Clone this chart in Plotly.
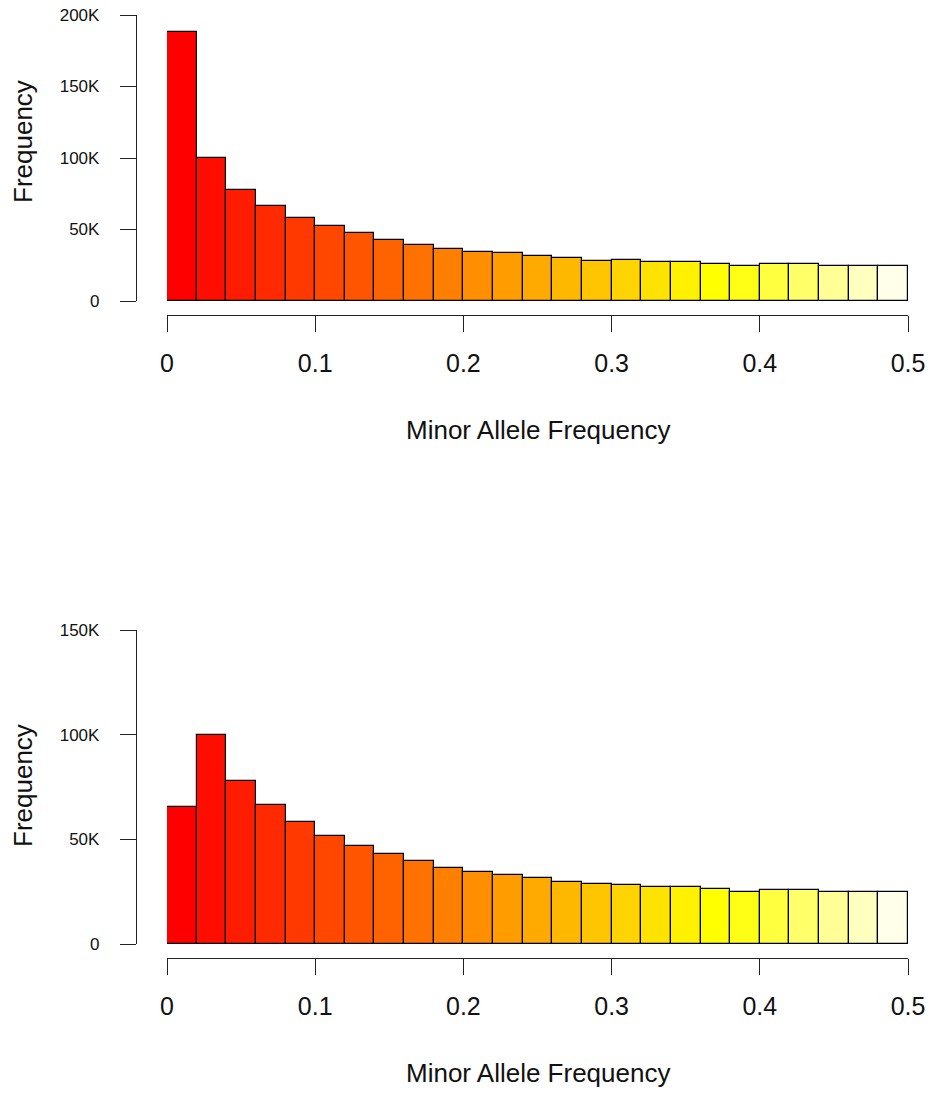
import plotly.graph_objects as go
import colorsys

# ---------------- data ----------------
bin_start = 0.0
bin_width = 0.02
n_bins = 25

# counts per bin (top panel)
counts_top = [188000, 100000, 77400, 66400, 58000, 52200, 47300, 42700, 38900, 36600,
               34300, 33300, 31700, 29800, 28200, 28400, 27000, 27000, 26100, 24700,
               26100, 25900, 24700, 24700, 24700]
# counts per bin (bottom panel)
counts_bottom = [65600, 99700, 77700, 66400, 58300, 51800, 46800, 42800, 39700, 36300,
                  34600, 33000, 31500, 29800, 28800, 28200, 27400, 27400, 26400, 24800,
                  25800, 25800, 24800, 24800, 24800]

x_tick_vals = [0, 0.1, 0.2, 0.3, 0.4, 0.5]
x_tick_text = ["0", "0.1", "0.2", "0.3", "0.4", "0.5"]
y_top_vals = [0, 50000, 100000, 150000, 200000]
y_top_text = ["0", "50K", "100K", "150K", "200K"]
y_bot_vals = [0, 50000, 100000, 150000]
y_bot_text = ["0", "50K", "100K", "150K"]

x_title = "Minor Allele Frequency"
y_title = "Frequency"

# ---------------- style ----------------
W, H = 931, 1093
FONT = "Liberation Sans, Arial, sans-serif"


def heat_colors(n):
    """R's heat.colors(n)"""
    j = n // 4
    i = n - j
    cols = []
    for k in range(i):
        h = (k / (i - 1)) * (1 / 6) if i > 1 else 0
        cols.append(colorsys.hsv_to_rgb(h, 1, 1))
    for k in range(j):
        s_hi, s_lo = 1 - 1 / (2 * j), 1 / (2 * j)
        s = s_hi + (s_lo - s_hi) * k / (j - 1) if j > 1 else s_hi
        cols.append(colorsys.hsv_to_rgb(1 / 6, s, 1))
    return ["rgb(%d,%d,%d)" % (round(r * 255), round(g * 255), round(b * 255)) for r, g, b in cols]


colors = heat_colors(n_bins)
centers = [bin_start + bin_width * (i + 0.5) for i in range(n_bins)]


def px_x(p):
    return p / W


def px_y(p):
    return 1 - p / H


fig = go.Figure()

panels = [
    # counts, yvals, ytext, ymax, y_top_px, y_zero_px, xaxis_line_px, ytitle_px, xtitle_px
    (counts_top, y_top_vals, y_top_text, 200000, 15, 301, 315, 142, 430),
    (counts_bottom, y_bot_vals, y_bot_text, 150000, 630, 944, 958, 786, 1073),
]

x_left_px, x_right_px = 167, 908
yaxis_line_px = 136

annotations = []
for idx, (counts, yv, yt, ymax, ytop, yzero, xline, ytit, xtit) in enumerate(panels):
    n = idx + 1
    xa = "x" if n == 1 else "x%d" % n
    ya = "y" if n == 1 else "y%d" % n
    fig.add_trace(go.Bar(
        x=centers, y=counts, width=[bin_width] * n_bins,
        marker=dict(color=colors, line=dict(color="black", width=1.2)),
        xaxis=xa, yaxis=ya, showlegend=False, hoverinfo="x+y",
    ))
    xkey = "xaxis" if n == 1 else "xaxis%d" % n
    ykey = "yaxis" if n == 1 else "yaxis%d" % n
    fig.update_layout(**{
        xkey: dict(
            domain=[px_x(x_left_px), px_x(x_right_px)], range=[0, 0.5],
            anchor="free", position=px_y(xline),
            showline=True, linecolor="#222", linewidth=1.4,
            ticks="outside", ticklen=16, tickwidth=1.4, tickcolor="#222",
            tickvals=x_tick_vals, ticktext=x_tick_text,
            tickfont=dict(family=FONT, size=25, color="#111"),
            ticklabelstandoff=10,
            showgrid=False, zeroline=False, fixedrange=True, automargin=False,
        ),
        ykey: dict(
            domain=[px_y(yzero), px_y(ytop)], range=[0, ymax],
            anchor="free", position=px_x(yaxis_line_px),
            showline=True, linecolor="#222", linewidth=1.4,
            ticks="outside", ticklen=16, tickwidth=1.4, tickcolor="#222",
            tickvals=yv, ticktext=yt,
            tickfont=dict(family=FONT, size=17, color="#111"),
            ticklabelstandoff=17,
            showgrid=False, zeroline=False, fixedrange=True, automargin=False,
        ),
    })
    annotations.append(dict(
        text=y_title, xref="paper", yref="paper", x=px_x(23), y=px_y(ytit),
        textangle=-90, showarrow=False, xanchor="center", yanchor="middle",
        font=dict(family=FONT, size=26, color="#111"),
    ))
    annotations.append(dict(
        text=x_title, xref="paper", yref="paper",
        x=px_x((x_left_px + x_right_px) / 2), y=px_y(xtit),
        showarrow=False, xanchor="center", yanchor="middle",
        font=dict(family=FONT, size=26, color="#111"),
    ))

fig.update_layout(
    width=W, height=H,
    margin=dict(l=0, r=0, t=0, b=0, autoexpand=False),
    paper_bgcolor="white", plot_bgcolor="white",
    bargap=0, annotations=annotations,
)

fig.write_html("out.html")
